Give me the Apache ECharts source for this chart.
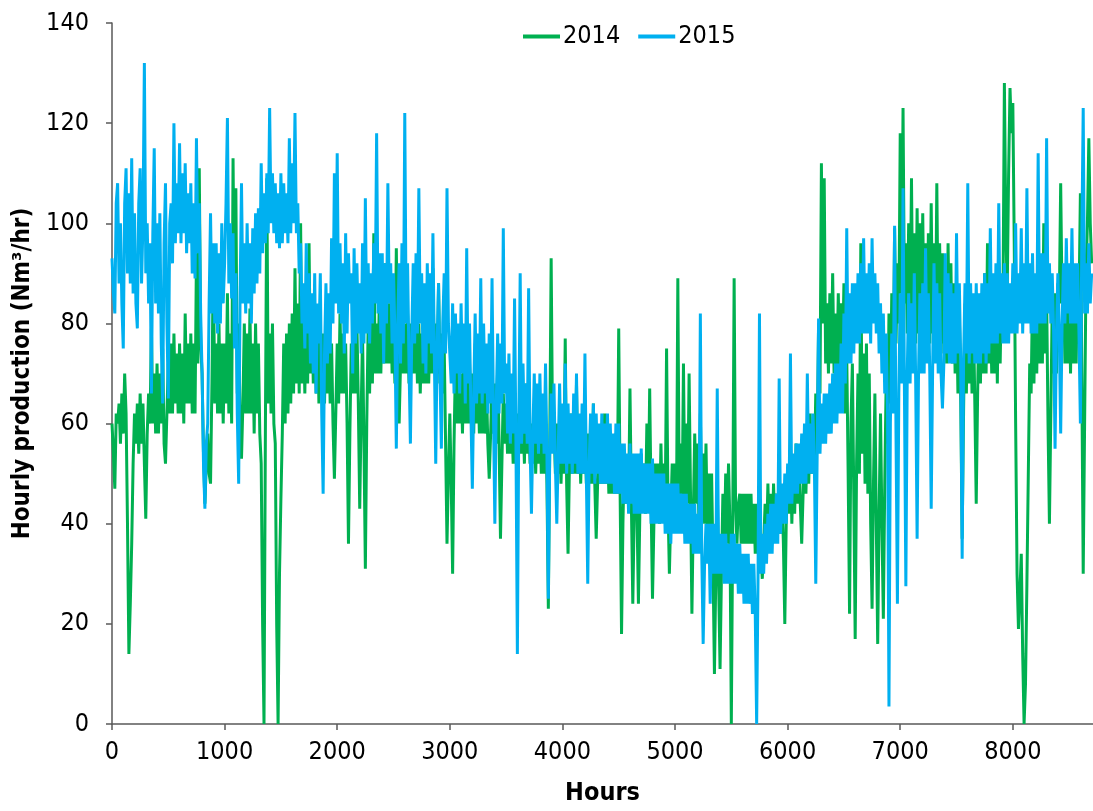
<!DOCTYPE html>
<html><head><meta charset="utf-8">
<script src="https://cdn.jsdelivr.net/npm/echarts@6/dist/echarts.min.js"></script>
<style>html,body{margin:0;padding:0;background:#fff}#c{width:1093px;height:811px}</style>
</head><body><div id="c"></div>
<script>
// One sample every STEP hours, starting at hour 0 (each row = 500 hours)
const STEP = 12.5;
const seriesNames = ['2014', '2015'];
const values2014 = [
  60,54,47,62,60,64,56,66,58,70,62,40,14,24,36,52,62,56,64,54,66,56,64,52,41,58,66,60,79,60,70,58,72,58,70,60,75,56,52,62,
  72,62,76,62,78,64,74,62,76,62,74,60,82,64,76,64,78,62,76,62,94,72,111,76,70,54,44,52,58,50,48,68,93,64,76,62,80,62,76,60,
  76,64,86,62,78,60,113,80,107,66,80,60,53,64,80,62,78,62,83,62,76,58,80,62,76,58,52,20,0,60,109,64,78,62,80,60,56,20,0,30,
  45,58,76,60,78,62,80,64,82,66,91,68,84,66,100,68,80,66,84,68,96,70,84,68,82,66,80,64,80,66,78,64,80,66,78,64,76,60,49,62,
  76,64,82,66,78,66,76,60,36,58,76,66,80,66,80,64,43,62,78,56,31,60,80,66,82,68,98,70,80,70,86,70,84,72,92,72,84,72,84,70,
  80,68,95,70,60,72,82,70,80,70,82,68,80,70,84,70,80,68,80,66,78,68,80,68,80,68,82,70,91,70,80,68,88,70,78,66,76,56,36,50,
  62,48,30,56,72,60,72,60,70,58,74,60,70,60,72,60,70,58,76,60,70,58,70,58,72,58,68,56,49,58,68,58,68,56,72,56,37,52,66,56,
  64,54,66,54,62,52,64,52,62,54,64,54,62,52,68,54,62,52,60,52,62,50,60,52,62,50,58,50,62,48,23,56,93,58,60,50,60,50,58,48,
  58,50,77,48,34,52,62,50,58,50,68,50,58,48,60,50,58,48,58,48,56,48,64,48,37,48,58,48,58,48,62,48,56,46,56,46,54,46,58,46,
  79,46,18,40,54,44,52,44,67,44,24,42,52,42,24,42,54,44,52,42,60,44,67,44,25,40,52,42,52,40,56,42,52,42,75,44,30,42,52,42,
  52,40,89,44,56,42,72,44,60,44,70,46,22,42,58,44,56,40,62,42,54,40,56,38,50,36,50,32,10,30,48,28,11,30,46,34,50,36,52,40,
  0,40,89,44,36,44,46,36,46,36,46,36,46,36,46,36,44,34,44,34,46,34,29,36,44,36,48,36,46,36,48,38,46,38,50,38,46,36,20,40,
  50,42,54,40,52,42,56,44,54,44,36,46,58,46,58,48,62,50,60,50,66,56,80,66,112,80,109,72,84,70,86,72,90,70,82,70,86,70,84,72,
  88,62,74,50,22,60,72,46,17,52,70,50,96,54,74,48,76,46,70,40,23,48,66,40,16,42,62,40,21,48,68,56,82,64,86,70,99,76,92,80,
  118,86,123,84,96,78,100,80,109,78,98,76,103,78,100,80,102,76,96,74,98,76,104,78,96,76,108,78,96,76,94,74,90,72,96,74,92,72,88,70,
  84,66,82,64,37,62,84,66,88,68,84,66,82,64,44,66,84,68,86,70,90,70,96,72,86,70,88,70,84,68,92,72,88,84,128,100,86,110,127,118,
  124,96,60,30,19,26,34,14,0,8,28,50,72,66,86,68,84,70,90,72,86,72,100,74,86,60,40,62,84,70,86,70,88,84,108,84,88,72,86,72,
  88,70,92,72,88,72,90,84,106,70,30,60,90,100,117,100,92
];
const values2015 = [
  93,86,82,104,108,88,100,84,75,104,111,90,106,88,113,86,102,84,79,104,111,88,100,132,90,100,84,96,66,98,115,84,100,82,102,76,64,96,108,80,
  65,100,104,92,120,96,108,98,116,96,110,98,112,94,106,96,108,90,104,89,117,94,104,82,70,52,43,56,60,84,102,82,96,80,96,78,94,80,100,84,
  92,104,121,88,100,85,98,75,90,62,48,86,108,84,96,82,100,84,96,80,99,86,102,88,103,90,112,94,106,96,110,98,123,100,110,98,108,96,106,95,
  110,96,108,98,106,96,117,98,112,100,122,98,104,90,96,80,88,75,96,78,90,72,86,70,90,66,84,76,90,62,46,74,88,72,86,74,97,80,110,84,
  114,82,96,80,92,74,98,78,94,84,90,70,95,76,92,78,88,74,96,76,105,78,92,76,90,80,96,84,118,82,94,78,94,72,92,80,108,84,92,76,
  90,78,55,80,92,72,96,76,122,80,92,72,56,78,92,76,94,78,107,80,90,72,88,70,92,76,90,74,98,74,52,76,88,70,55,80,90,74,107,80,
  80,68,84,66,82,70,80,66,84,70,80,64,95,68,80,62,47,66,82,64,78,66,89,64,80,66,76,62,78,64,89,62,40,64,78,62,76,64,99,66,
  72,58,74,56,70,58,85,56,14,60,90,56,72,58,68,56,87,56,42,58,70,56,68,54,70,56,66,54,72,54,25,54,66,54,68,52,40,54,68,52,
  64,52,72,50,64,52,62,50,66,52,70,50,62,50,64,50,74,50,28,52,62,50,64,48,62,50,60,48,62,48,60,48,62,48,60,48,58,46,60,46,
  60,46,56,44,56,44,54,42,56,44,54,42,54,42,54,42,55,42,52,42,52,42,52,40,53,40,50,40,50,40,50,40,50,38,48,38,48,36,48,38,
  48,38,48,38,46,38,46,36,46,36,44,36,44,34,44,34,42,34,82,34,16,32,40,32,40,24,40,30,40,30,67,30,38,30,38,28,38,28,36,28,
  38,28,38,28,36,26,36,26,34,24,34,24,34,24,32,22,32,22,0,30,82,30,38,30,40,32,42,34,44,34,44,36,46,36,69,38,48,40,50,40,
  52,44,74,44,54,46,56,46,56,48,58,48,60,48,70,50,60,50,62,52,28,54,81,54,64,56,66,56,66,58,68,58,70,60,72,60,72,62,76,62,
  82,68,99,72,86,72,88,74,88,76,90,76,92,78,97,78,90,78,92,76,97,80,90,78,88,74,84,70,82,66,78,62,3.5,60,78,62,99.5,58,24,66,
  86,68,107,66,27.5,70,86,68,84,70,90,68,37,70,86,70,88,70,95,72,86,70,43,70,92,72,88,70,86,70,63,72,94,74,90,72,88,72,86,72,
  98,74,88,72,33,72,88,74,108,72,88,74,86,72,88,72,86,72,88,74,90,72,88,74,99,76,90,76,92,76,104,78,90,76,92,76,90,76,88,78,
  92,78,100,78,90,80,99,78,92,80,107,80,92,78,94,78,90,78,114,80,94,80,94,80,117,82,92,80,90,78,55,78,90,78,58,80,92,80,97,82,
  92,80,99,80,92,80,92,78,60,96,123,82,92,82,96,84,90
];
const colors = ['#00B050', '#00B0F0'];
const xTitle = 'Hours';
const yTitle = 'Hourly production (Nm³/hr)';

function pairs(vals) { return vals.map((v, i) => [i * STEP, v]); }

const FONT = '"DejaVu Sans Condensed", "DejaVu Sans", sans-serif';
const axisLineStyle = { color: '#595959', width: 1.5 };

const chart = echarts.init(document.getElementById('c'), null, { renderer: 'canvas' });
chart.setOption({
  animation: false,
  backgroundColor: '#ffffff',
  textStyle: { fontFamily: FONT },
  legend: {
    data: seriesNames,
    left: 518, top: 19,
    icon: 'rect', itemWidth: 37, itemHeight: 4, itemGap: 18,
    textStyle: { fontSize: 25, color: '#000', fontFamily: FONT, padding: [0, 0, 0, -2] }
  },
  grid: { left: 112, right: 0, top: 23, bottom: 85, containLabel: false },
  xAxis: {
    type: 'value', min: 0, max: 8712, interval: 1000,
    name: xTitle, nameLocation: 'middle', nameGap: 57,
    nameTextStyle: { fontSize: 25, fontWeight: 'bold', color: '#000', fontFamily: FONT },
    axisLine: { show: true, lineStyle: axisLineStyle },
    axisTick: { show: true, length: 6, lineStyle: axisLineStyle },
    axisLabel: { fontSize: 25, color: '#000', margin: 16, showMaxLabel: false, fontFamily: FONT,
      formatter: v => String(v) },
    splitLine: { show: false }
  },
  yAxis: {
    type: 'value', min: 0, max: 140, interval: 20,
    name: yTitle, nameLocation: 'middle', nameGap: 74,
    nameTextStyle: { fontSize: 24, fontWeight: 'bold', color: '#000', fontFamily: FONT },
    axisLine: { show: true, lineStyle: axisLineStyle },
    axisTick: { show: true, length: 6, lineStyle: axisLineStyle },
    axisLabel: { fontSize: 25, color: '#000', margin: 23, fontFamily: FONT },
    splitLine: { show: false }
  },
  series: [
    { name: seriesNames[0], type: 'line', data: pairs(values2014), showSymbol: false, symbol: 'none',
      lineStyle: { color: colors[0], width: 3 }, itemStyle: { color: colors[0] } },
    { name: seriesNames[1], type: 'line', data: pairs(values2015), showSymbol: false, symbol: 'none',
      lineStyle: { color: colors[1], width: 3 }, itemStyle: { color: colors[1] } }
  ]
});
</script></body></html>
